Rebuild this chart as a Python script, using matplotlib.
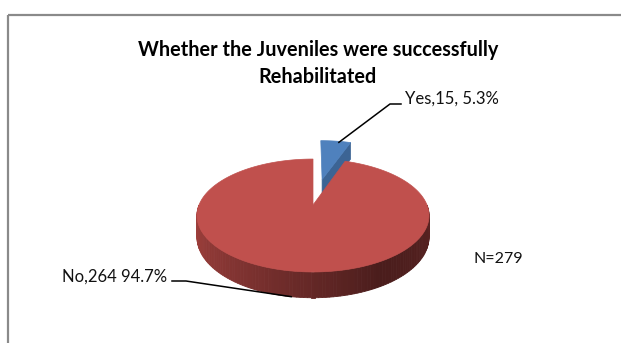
import numpy as np
import matplotlib

matplotlib.use("Agg")
import matplotlib.pyplot as plt
from matplotlib.patches import Polygon, Rectangle
from matplotlib.colors import LinearSegmentedColormap

# --- data ---
CATEGORIES = ["Yes", "No"]
COUNTS = [15, 264]
LABELS = ["Yes,15, 5.3%", "No,264 94.7%"]
TITLE_LINES = ["Whether the Juveniles were successfully", "Rehabilitated"]
NOTE = "N=279"

# --- style ---
TOP_COLORS = ["#4F81BD", "#C0504D"]
SIDE_BLUE = "#3C6494"
SIDE_RED = LinearSegmentedColormap.from_list(
    "side", ["#A8433F", "#7E3230", "#4A1D1C", "#5A2322"])
EXPLODE = [0.52, 0.0]

# pie geometry in pixel space (simple perspective of a tilted disk)
CX, CY = 313, 205
A, B, K, H = 114, 54.5, 0.186, 21

plt.rcParams["font.family"] = ["Lato", "DejaVu Sans"]


def proj(u, v, z=0.0):
    s = 1.0 / (1.0 - K * v)
    return CX + A * u * s, CY + B * v * s + z * H * s


def disk(phi_deg, off=(0.0, 0.0), r=1.0):
    p = np.radians(phi_deg)
    return off[0] + r * np.cos(p), off[1] - r * np.sin(p)


fig = plt.figure(figsize=(6.21, 3.43), dpi=100)
ax = fig.add_axes([0, 0, 1, 1])
ax.set_xlim(0, 621)
ax.set_ylim(343, 0)
ax.axis("off")

# chart-area border (only top and left edges visible in the crop)
ax.add_patch(Rectangle((7.5, 15), 640, 360, fill=False, ec="#8a8a8a", lw=1.6))

total = sum(COUNTS)
starts, ends = [], []
a0 = 90.0
for c in COUNTS:
    a1 = a0 - 360.0 * c / total
    starts.append(a0)
    ends.append(a1)
    a0 = a1

# --- Yes slice (exploded, behind) ---
mid = np.radians((starts[0] + ends[0]) / 2)
off = (EXPLODE[0] * np.cos(mid), -EXPLODE[0] * np.sin(mid))
ap = proj(*off)
apb = proj(*off, z=1)
rim = proj(*disk(ends[0], off))
rimb = proj(*disk(ends[0], off), z=1)
ax.add_patch(Polygon([ap, rim, rimb, apb], closed=True, fc=SIDE_BLUE, ec=SIDE_BLUE, lw=0.5))
arc = np.linspace(starts[0], ends[0], 30)
pts = [ap] + [proj(*disk(a, off)) for a in arc]
ax.add_patch(Polygon(pts, closed=True, fc=TOP_COLORS[0], ec=TOP_COLORS[0], lw=0.5))
yes_anchor = proj(*disk(np.degrees(mid) - 2, off))

# --- No slice: side band with gradient, then top face ---
band = np.linspace(180, 360, 120)
for i in range(len(band) - 1):
    a, b = band[i], band[i + 1]
    q = [proj(*disk(a)), proj(*disk(b)), proj(*disk(b), z=1), proj(*disk(a), z=1)]
    col = SIDE_RED((i + 0.5) / (len(band) - 1))
    ax.add_patch(Polygon(q, closed=True, fc=col, ec=col, lw=0.6))
arc = np.linspace(starts[1], ends[1], 400)
pts = [proj(0, 0)] + [proj(*disk(a)) for a in arc]
ax.add_patch(Polygon(pts, closed=True, fc=TOP_COLORS[1], ec=TOP_COLORS[1], lw=0.5))
no_anchor = proj(*disk(261), z=1)

# --- labels with leader lines ---
ax.plot([yes_anchor[0], 390, 401], [yes_anchor[1] + 1, 104, 104], color="black", lw=1.1)
ax.text(405, 99, LABELS[0], fontsize=12, ha="left", va="center", color="#111111")
ax.plot([172, 186, no_anchor[0]], [281, 281, no_anchor[1]], color="black", lw=1.1)
ax.text(167, 277, LABELS[1], fontsize=12, ha="right", va="center", color="#111111")
ax.text(498, 259, NOTE, fontsize=11.5, ha="center", va="center", color="#111111")

ax.text(318, 50, TITLE_LINES[0], fontsize=14.3, fontweight="bold", ha="center",
        va="center", color="black")
ax.text(318, 77, TITLE_LINES[1], fontsize=14.3, fontweight="bold", ha="center",
        va="center", color="black")

fig.savefig("out.png", dpi=100)
